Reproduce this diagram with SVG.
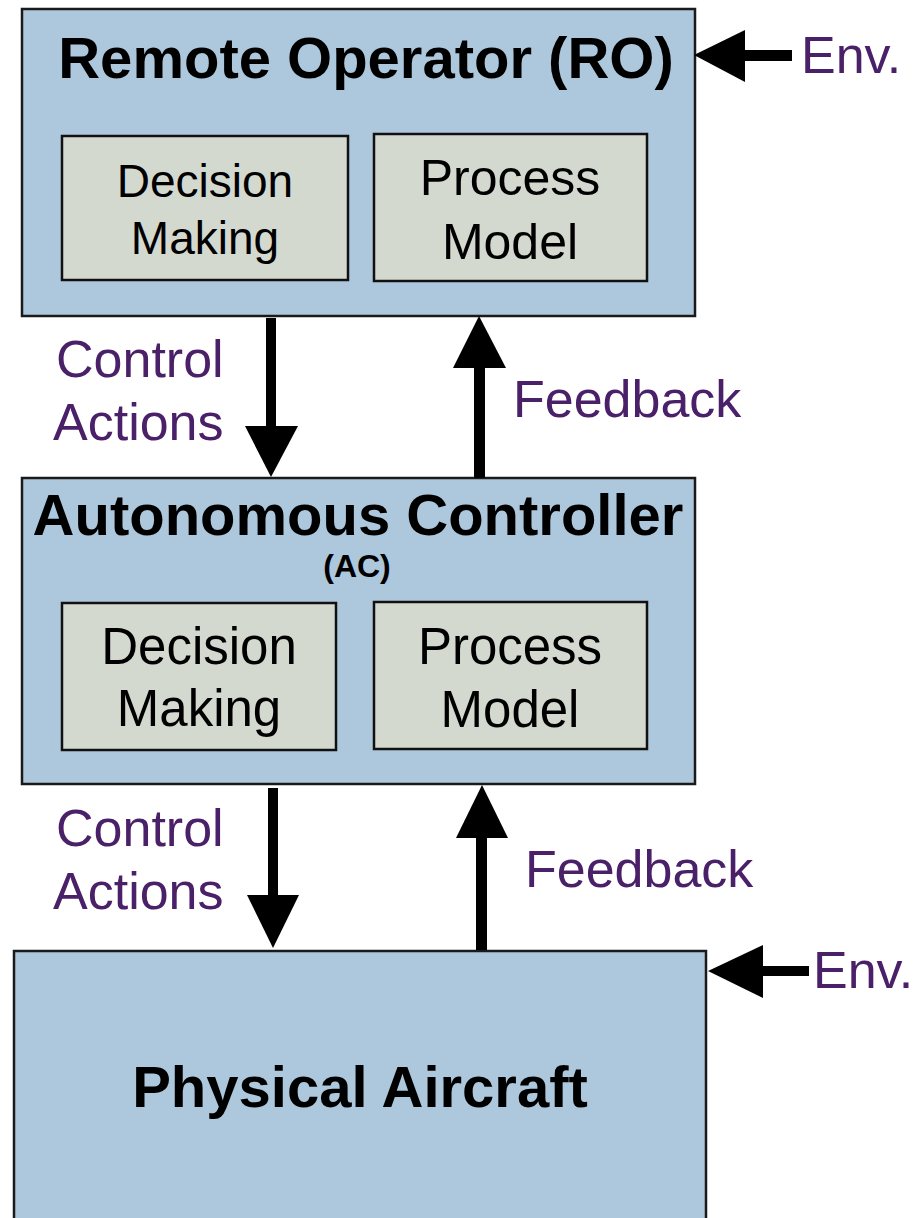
<svg xmlns="http://www.w3.org/2000/svg" width="917" height="1218" viewBox="0 0 917 1218">
<style>
.outer{fill:#adc7dc;stroke:#1a1a1a;stroke-width:2.5}
.inner{fill:#d4d9d0;stroke:#111;stroke-width:2.5}
.title{font-family:"Liberation Sans",Arial,sans-serif;font-weight:bold;fill:#000;text-anchor:middle}
.body{font-family:"Liberation Sans",Arial,sans-serif;fill:#000;text-anchor:middle}
.lbl{font-family:"Liberation Sans",Arial,sans-serif;fill:#4a2068;font-size:52px}
.arr{fill:#000}
</style>
<rect width="917" height="1218" fill="#fff"/>
<g id="ro">
<rect class="outer" x="22" y="9" width="673" height="307"/>
<text class="title" x="366" y="78" font-size="58">Remote Operator (RO)</text>
<g id="ro-dm">
<rect class="inner" x="62" y="136" width="286" height="144"/>
<text class="body" x="205" y="197" font-size="46">Decision</text>
<text class="body" x="205" y="254" font-size="46">Making</text>
</g>
<g id="ro-pm">
<rect class="inner" x="374" y="134" width="273" height="147"/>
<text class="body" x="510" y="195" font-size="50">Process</text>
<text class="body" x="510" y="259" font-size="50">Model</text>
</g>
</g>
<g id="ac">
<rect class="outer" x="22" y="478" width="673" height="306"/>
<text class="title" x="358" y="535" font-size="58">Autonomous Controller</text>
<text class="title" x="357" y="577" font-size="32">(AC)</text>
<g id="ac-dm">
<rect class="inner" x="62" y="603" width="274" height="147"/>
<text class="body" x="199" y="664" font-size="51">Decision</text>
<text class="body" x="199" y="726" font-size="51">Making</text>
</g>
<g id="ac-pm">
<rect class="inner" x="374" y="602" width="273" height="147"/>
<text class="body" x="510" y="664" font-size="51">Process</text>
<text class="body" x="510" y="727" font-size="51">Model</text>
</g>
</g>
<g id="pa">
<rect class="outer" x="14" y="951" width="692" height="280"/>
<text class="title" x="360" y="1107" font-size="58">Physical Aircraft</text>
</g>
<g id="connectors">
<rect class="arr" x="266" y="318" width="10" height="110"/>
<polygon class="arr" points="245,426 298,426 271,477"/>
<rect class="arr" x="474" y="366" width="11" height="112"/>
<polygon class="arr" points="453,368 506,368 479,316"/>
<rect class="arr" x="268" y="788" width="10" height="109"/>
<polygon class="arr" points="247,895 299,895 273,948"/>
<rect class="arr" x="476" y="836" width="11" height="114"/>
<polygon class="arr" points="456,838 508,838 482,785"/>
<rect class="arr" x="743" y="50" width="49" height="11"/>
<polygon class="arr" points="745,30 745,82 694,55"/>
<rect class="arr" x="761" y="966" width="48" height="10"/>
<polygon class="arr" points="763,945 763,998 708,971"/>
</g>
<g id="labels">
<text class="lbl" x="56" y="377">Control</text>
<text class="lbl" x="53" y="440">Actions</text>
<text class="lbl" x="513" y="417">Feedback</text>
<text class="lbl" x="56" y="846">Control</text>
<text class="lbl" x="53" y="909">Actions</text>
<text class="lbl" x="525" y="887">Feedback</text>
<text class="lbl" x="801" y="73" font-size="48">Env.</text>
<text class="lbl" x="813" y="988" font-size="48">Env.</text>
</g>
</svg>
